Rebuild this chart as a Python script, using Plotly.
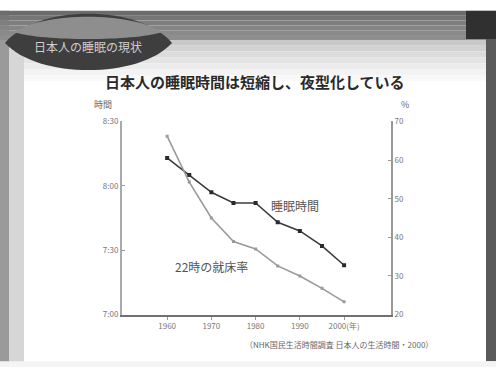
import plotly.graph_objects as go

# Survey years (5-year intervals)
years = [1960, 1965, 1970, 1975, 1980, 1985, 1990, 1995, 2000]
# Average weekday sleep time, minutes
sleep_minutes = [493, 485, 477, 472, 472, 463, 459, 452, 443]
# Share of people already in bed at 22:00, percent
bed_by_22 = [66.2, 54.3, 45.0, 38.9, 37.0, 32.6, 30.0, 26.8, 23.3]

left_tickvals = [420, 450, 480, 510]
left_ticktext = ["7:00", "7:30", "8:00", "8:30"]
right_tickvals = [20, 30, 40, 50, 60, 70]
x_tickvals = [1960, 1970, 1980, 1990, 2000]
x_ticktext = ["1960", "1970", "1980", "1990", "2000(年)"]

W, H = 496, 372
FONT = "Noto Sans CJK JP"


def px_x(x):
    return x / W


def px_y(y):
    return 1 - y / H


fig = go.Figure()

fig.add_trace(go.Scatter(
    x=years, y=sleep_minutes, mode="lines+markers", yaxis="y",
    line=dict(color="#3c3c3c", width=1.6),
    marker=dict(symbol="square", size=4, color="#2a2a2a"),
    showlegend=False, hoverinfo="skip"))

fig.add_trace(go.Scatter(
    x=years, y=bed_by_22, mode="lines+markers", yaxis="y2",
    line=dict(color="#9a9a9a", width=1.6),
    marker=dict(symbol="square", size=3, color="#9a9a9a"),
    showlegend=False, hoverinfo="skip"))

shapes = []


def rect(x0, y0, x1, y1, color, layer="below"):
    shapes.append(dict(type="rect", xref="paper", yref="paper",
                       x0=px_x(x0), x1=px_x(x1), y0=px_y(y1), y1=px_y(y0),
                       fillcolor=color, line=dict(width=0), layer=layer))


def lens(x0, x1, ymid, ytop, ybot, color):
    # two cubic arcs meeting at the tips; apex sits 3/4 of the way to the control points
    ct = ymid - (ymid - ytop) / 0.75
    cb = ymid + (ybot - ymid) / 0.75
    xa = x0 + (x1 - x0) * 0.2
    xb = x0 + (x1 - x0) * 0.8
    path = ("M {a},{m} C {xa},{ct} {xb},{ct} {b},{m} C {xb},{cb} {xa},{cb} {a},{m} Z").format(
        a=px_x(x0), b=px_x(x1), m=px_y(ymid), xa=px_x(xa), xb=px_x(xb),
        ct=px_y(ct), cb=px_y(cb))
    shapes.append(dict(type="path", xref="paper", yref="paper", layer="below",
                       path=path, fillcolor=color, line=dict(width=0)))


# slide frame
rect(0, 0, W, H, "#ffffff")
rect(0, 5, 9, 368, "#9a9a9a")
rect(9, 35, 24, 368, "#d6d6d6")
# header band with a soft vertical gradient
band = ["#6c6c6c", "#767676", "#7e7e7e", "#858585", "#8a8a8a", "#8e8e8e"]
for i, c in enumerate(band):
    rect(0, 5 + i * 5, W, 10 + i * 5, c)
# light grey fade under the header
fade = ["#c8c8c8", "#d2d2d2", "#dcdcdc", "#e4e4e4", "#ececec", "#f3f3f3", "#f8f8f8"]
for i, c in enumerate(fade):
    rect(24, 35 + i * 6, 486, 41 + i * 6, c)
# right edge bar and corner block
rect(486, 30, W, 366, "#5a5a5a")
rect(466, 5, W, 34, "#303030")
# bottom strip
rect(0, 366, W, H, "#f4f4f4")

# dark lens-shaped header badge with a lighter upper sheen
lens(5, 172, 38, 8, 66, "#3e3e3e")
lens(14, 162, 27, 11, 34, "#8e8e8e")

annotations = [
    dict(text="日本人の睡眠の現状", x=px_x(88), y=px_y(42), size=12, color="#cfcfcf"),
    dict(text="<b>日本人の睡眠時間は短縮し、夜型化している</b>", x=px_x(255), y=px_y(78),
         size=15, color="#2a2a2a"),
    dict(text="時間", x=px_x(103), y=px_y(102), size=9, color="#666"),
    dict(text="%", x=px_x(405), y=px_y(102), size=9, color="#666"),
    dict(text="睡眠時間", x=px_x(295), y=px_y(206), size=12, color="#555"),
    dict(text="22時の就床率", x=px_x(211), y=px_y(268), size=12, color="#555"),
    dict(text="（NHK国民生活時間調査 日本人の生活時間・2000）", x=px_x(339), y=px_y(349),
         size=8, color="#666"),
]
annotations = [dict(text=a["text"], x=a["x"], y=a["y"], xref="paper", yref="paper",
                    xanchor="center", yanchor="middle", showarrow=False,
                    font=dict(family=FONT, size=a["size"], color=a["color"]))
               for a in annotations]

fig.update_layout(
    width=W, height=H,
    margin=dict(l=0, r=0, t=0, b=0),
    paper_bgcolor="#ffffff", plot_bgcolor="rgba(0,0,0,0)",
    shapes=shapes, annotations=annotations,
    font=dict(family=FONT, size=8, color="#777"),
    xaxis=dict(domain=[px_x(122), px_x(391)], range=[1949.8, 2010.6],
               tickvals=x_tickvals, ticktext=x_ticktext, showgrid=False, zeroline=False,
               showline=True, linecolor="#707070", linewidth=2,
               ticks="outside", ticklen=3, tickcolor="#999", anchor="y"),
    yaxis=dict(domain=[px_y(318), px_y(119)], range=[420, 510],
               tickvals=left_tickvals, ticktext=left_ticktext, showgrid=False,
               zeroline=False, showline=True, linecolor="#aaaaaa", linewidth=2,
               ticks="inside", ticklen=3, tickcolor="#999", anchor="x"),
    yaxis2=dict(domain=[px_y(318), px_y(119)], range=[20, 70], overlaying="y",
                side="right", tickvals=right_tickvals, showgrid=False, zeroline=False,
                showline=True, linecolor="#999999", linewidth=2,
                ticks="inside", ticklen=3, tickcolor="#999", anchor="x"),
)

fig.write_html("out.html")
